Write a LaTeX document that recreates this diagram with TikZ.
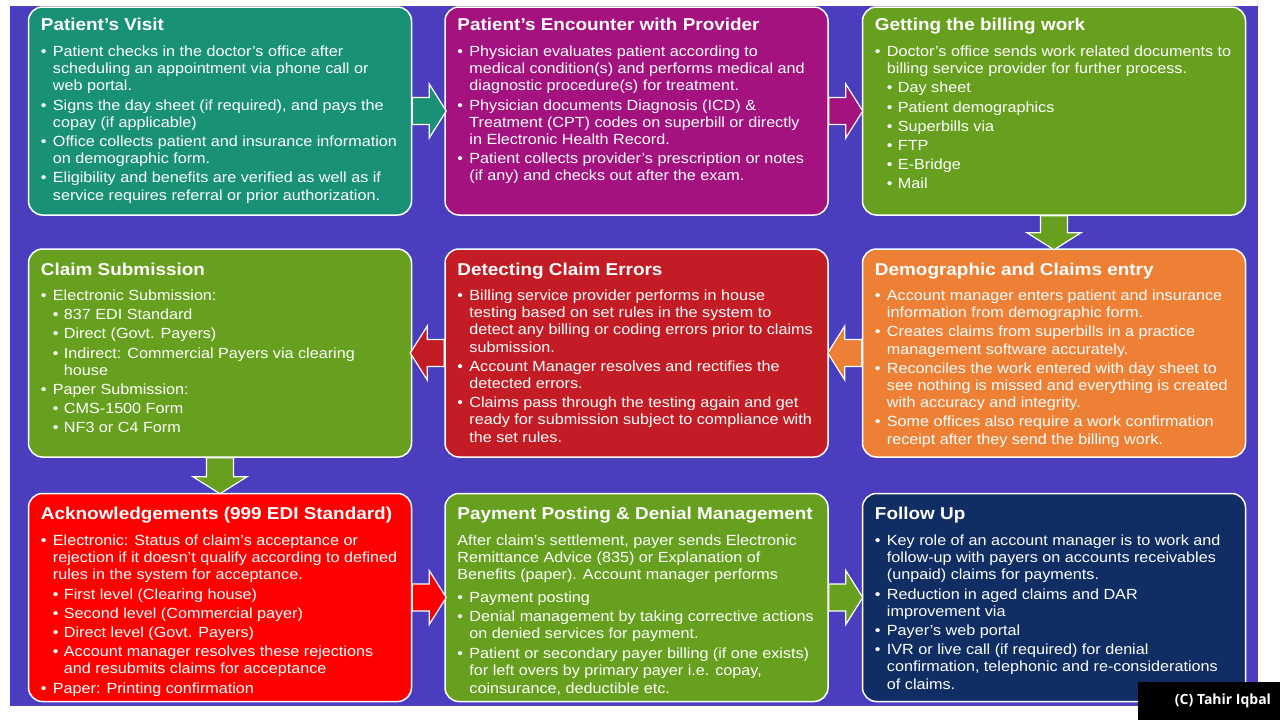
\documentclass[tikz,border=0pt]{standalone}
\usepackage{fontspec}
\setmainfont{Liberation Sans}[FakeStretch=1.1]
\newfontfamily\copyfont{Open Sans}
\usetikzlibrary{calc}
\definecolor{bgpurple}{HTML}{4A3EBE}
\definecolor{cteal}{HTML}{189176}
\definecolor{cmagenta}{HTML}{A3127F}
\definecolor{cgreen}{HTML}{67A01E}
\definecolor{cdarkred}{HTML}{C41C24}
\definecolor{corange}{HTML}{EE8036}
\definecolor{cred}{HTML}{FE0000}
\definecolor{cnavy}{HTML}{102E64}
\newcommand\Bu{\strut\makebox[12pt][l]{•}}
\newcommand\Bc{\strut\hspace*{12pt}}
\newcommand\Su{\strut\hspace*{12pt}\makebox[11pt][l]{•}}
\newcommand\Sc{\strut\hspace*{23pt}}
% block arrow: #1 start anchor, #2 extra transform, #3 colour, #4 length
\newcommand\blockarrow[4]{%
  \filldraw[arrowbox, fill=#3, shift={(#1)}, #2]
    (0,-13.5) -- (#4-17,-13.5) -- (#4-17,-27) -- (#4,0) -- (#4-17,27)
    -- (#4-17,13.5) -- (0,13.5) -- cycle;}
\tikzset{
  box/.style={draw=white, line width=1.5pt, rounded corners=14pt,
    minimum width=383pt, minimum height=208pt, inner sep=0pt},
  ttl/.style={anchor=base west, inner sep=0pt, text=white,
    font=\bfseries\fontsize{17.2}{20}\selectfont},
  body/.style={anchor=north west, inner sep=0pt, text=white, align=left,
    font=\fontsize{14.7}{17.2}\selectfont},
  arrowbox/.style={draw=white, line width=1.2pt, line join=miter},
}
\begin{document}
\begin{tikzpicture}[x=1pt,y=-1pt]
\useasboundingbox (0,0) rectangle (1280,720);
\fill[white] (0,0) rectangle (1280,720);
\fill[bgpurple] (10,6) rectangle (1258,706);

% boxes
\node[box, fill=cteal]    (b1) at (220,111) {};
\node[box, fill=cmagenta] (b2) at (636.5,111) {};
\node[box, fill=cgreen]   (b3) at (1054,111) {};
\node[box, fill=cgreen]   (b4) at (220,353) {};
\node[box, fill=cdarkred] (b5) at (636.5,353) {};
\node[box, fill=corange]  (b6) at (1054,353) {};
\node[box, fill=cred]     (b7) at (220,597.5) {};
\node[box, fill=cgreen]   (b8) at (636.5,597.5) {};
\node[box, fill=cnavy]    (b9) at (1054,597.5) {};

% arrows (from box to box)
\blockarrow{b1.east}{}{cteal}{34}
\blockarrow{b2.east}{}{cmagenta}{34}
\blockarrow{b3.south}{rotate=-90}{cgreen}{34}
\blockarrow{b6.west}{xscale=-1}{corange}{34}
\blockarrow{b5.west}{xscale=-1}{cdarkred}{34}
\blockarrow{b4.south}{rotate=-90}{cgreen}{36}
\blockarrow{b7.east}{}{cred}{34}
\blockarrow{b8.east}{}{cgreen}{34}

% row 1 texts
\node[ttl] (t1) at ($(b1.north west)+(13,24)$) {Patient’s Visit};
\node[body] (c1) at ($(b1.north west)+(13,38)$) {%
\Bu Patient checks in the doctor’s office after\\
\Bc scheduling an appointment via phone call or\\
\Bc web portal.\\[2pt]
\Bu Signs the day sheet (if required), and pays the\\
\Bc copay (if applicable)\\[2pt]
\Bu Office collects patient and insurance information\\
\Bc on demographic form.\\[2pt]
\Bu Eligibility and benefits are verified as well as if\\
\Bc service requires referral or prior authorization.};

\node[ttl] (t2) at ($(b2.north west)+(13,24)$) {Patient’s Encounter with Provider};
\node[body] (c2) at ($(b2.north west)+(13,38)$) {%
\Bu Physician evaluates patient according to\\
\Bc medical condition(s) and performs medical and\\
\Bc diagnostic procedure(s) for treatment.\\[2pt]
\Bu Physician documents Diagnosis (ICD) \&\\
\Bc Treatment (CPT) codes on superbill or directly\\
\Bc in Electronic Health Record.\\[2pt]
\Bu Patient collects provider’s prescription or notes\\
\Bc (if any) and checks out after the exam.};

\node[ttl] (t3) at ($(b3.north west)+(13,24)$) {Getting the billing work};
\node[body] (c3) at ($(b3.north west)+(13,38)$) {%
\Bu Doctor’s office sends work related documents to\\
\Bc billing service provider for further process.\\[2pt]
\Su Day sheet\\[2pt]
\Su Patient demographics\\[2pt]
\Su Superbills via\\[2pt]
\Su FTP\\[2pt]
\Su E-Bridge\\[2pt]
\Su Mail};

% row 2 texts
\node[ttl] (t4) at ($(b4.north west)+(13,27)$) {Claim Submission};
\node[body] (c4) at ($(b4.north west)+(13,40)$) {%
\Bu Electronic Submission:\\[2pt]
\Su 837 EDI Standard\\[2pt]
\Su Direct (Govt. Payers)\\[2pt]
\Su Indirect: Commercial Payers via clearing\\
\Sc house\\[2pt]
\Bu Paper Submission:\\[2pt]
\Su CMS-1500 Form\\[2pt]
\Su NF3 or C4 Form};

\node[ttl] (t5) at ($(b5.north west)+(13,27)$) {Detecting Claim Errors};
\node[body] (c5) at ($(b5.north west)+(13,40)$) {%
\Bu Billing service provider performs in house\\
\Bc testing based on set rules in the system to\\
\Bc detect any billing or coding errors prior to claims\\
\Bc submission.\\[2pt]
\Bu Account Manager resolves and rectifies the\\
\Bc detected errors.\\[2pt]
\Bu Claims pass through the testing again and get\\
\Bc ready for submission subject to compliance with\\
\Bc the set rules.};

\node[ttl] (t6) at ($(b6.north west)+(13,27)$) {Demographic and Claims entry};
\node[body] (c6) at ($(b6.north west)+(13,40)$) {%
\Bu Account manager enters patient and insurance\\
\Bc information from demographic form.\\[2pt]
\Bu Creates claims from superbills in a practice\\
\Bc management software accurately.\\[2pt]
\Bu Reconciles the work entered with day sheet to\\
\Bc see nothing is missed and everything is created\\
\Bc with accuracy and integrity.\\[2pt]
\Bu Some offices also require a work confirmation\\
\Bc receipt after they send the billing work.};

% row 3 texts
\node[ttl] (t7) at ($(b7.north west)+(13,26.5)$) {Acknowledgements (999 EDI Standard)};
\node[body] (c7) at ($(b7.north west)+(13,40.5)$) {%
\Bu Electronic: Status of claim’s acceptance or\\
\Bc rejection if it doesn’t qualify according to defined\\
\Bc rules in the system for acceptance.\\[2pt]
\Su First level (Clearing house)\\[2pt]
\Su Second level (Commercial payer)\\[2pt]
\Su Direct level (Govt. Payers)\\[2pt]
\Su Account manager resolves these rejections\\
\Sc and resubmits claims for acceptance\\[2pt]
\Bu Paper: Printing confirmation};

\node[ttl] (t8) at ($(b8.north west)+(13,26.5)$) {Payment Posting \& Denial Management};
\node[body] (c8) at ($(b8.north west)+(13,40.5)$) {%
\strut After claim’s settlement, payer sends Electronic\\
\strut Remittance Advice (835) or Explanation of\\
\strut Benefits (paper). Account manager performs\\[5pt]
\Bu Payment posting\\[2.5pt]
\Bu Denial management by taking corrective actions\\
\Bc on denied services for payment.\\[2.5pt]
\Bu Patient or secondary payer billing (if one exists)\\
\Bc for left overs by primary payer i.e. copay,\\
\Bc coinsurance, deductible etc.};

\node[ttl] (t9) at ($(b9.north west)+(13,26.5)$) {Follow Up};
\node[body] (c9) at ($(b9.north west)+(13,40.5)$) {%
\Bu Key role of an account manager is to work and\\
\Bc follow-up with payers on accounts receivables\\
\Bc (unpaid) claims for payments.\\[2pt]
\Bu Reduction in aged claims and DAR\\
\Bc improvement via\\[2pt]
\Bu Payer’s web portal\\[2pt]
\Bu IVR or live call (if required) for denial\\
\Bc confirmation, telephonic and re-considerations\\
\Bc of claims.};

% copyright
\node[fill=black, minimum width=142pt, minimum height=38pt, inner sep=0pt] (cr) at (1209,701) {};
\node[anchor=east, inner sep=0pt, text=white, font=\copyfont\bfseries\fontsize{14}{16}\selectfont] (crt) at ($(cr.east)+(-9,0)$) {(C) Tahir Iqbal};
\end{tikzpicture}
\end{document}
